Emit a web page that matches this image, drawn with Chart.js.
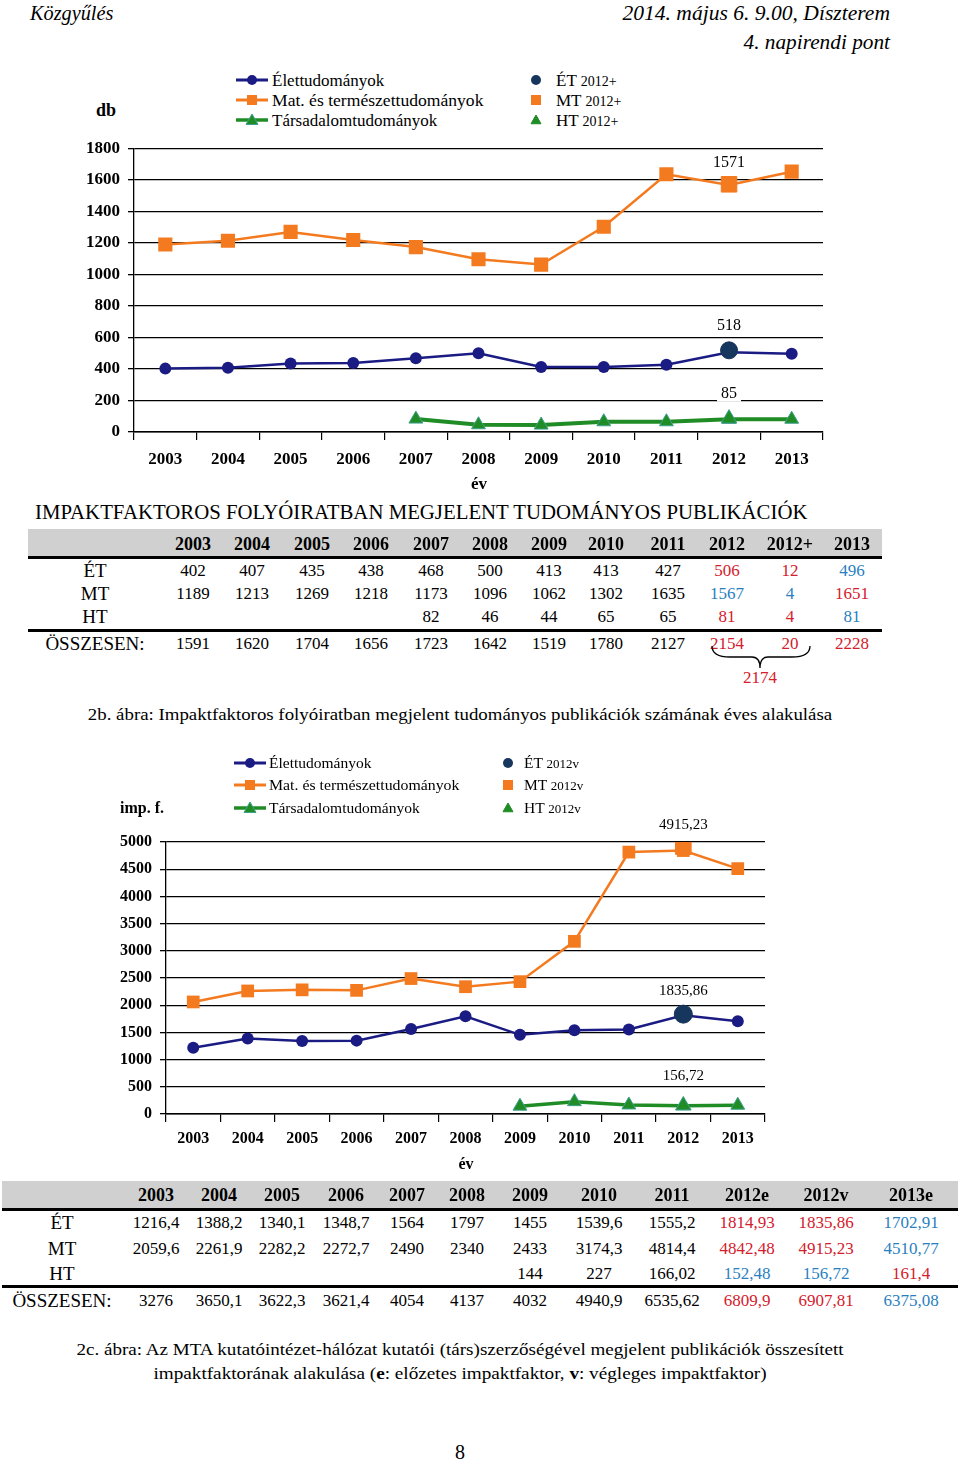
<!DOCTYPE html>
<html><head><meta charset="utf-8">
<script src="https://cdn.jsdelivr.net/npm/chart.js@4"></script>
<style>
body{margin:0;width:960px;height:1464px;position:relative;background:#fff;font-family:'Liberation Serif',serif;color:#000;overflow:hidden}
.t{position:absolute;white-space:nowrap;line-height:1}
canvas{position:absolute}
.band{position:absolute;background:#d0d0d0}
.rule{position:absolute;background:#000}
</style></head>
<body>
<canvas id="c1" width="960" height="350" style="left:0;top:130px"></canvas>
<canvas id="c2" width="960" height="360" style="left:0;top:800px"></canvas>
<script>
// ---------- DATA ----------
const years = ['2003','2004','2005','2006','2007','2008','2009','2010','2011','2012','2013'];
// 2b: number of publications (db)
const pubET = [402,407,435,438,468,500,413,413,427,506,496];
const pubMT = [1189,1213,1269,1218,1173,1096,1062,1302,1635,1567,1651];
const pubHT = [null,null,null,null,82,46,44,65,65,81,81];
const pubTotal = [1591,1620,1704,1656,1723,1642,1519,1780,2127,2154,2228];
const pubPlusET = 12, pubPlusMT = 4, pubPlusHT = 4, pubPlusTotal = 20;
const pubSum2012 = 2174;
const pubHeaders = ['2003','2004','2005','2006','2007','2008','2009','2010','2011','2012','2012+','2013'];
// 2c: impact factor (imp. f.)
const ifET = [1216.4,1388.2,1340.1,1348.7,1564,1797,1455,1539.6,1555.2,1814.93,1702.91];
const ifMT = [2059.6,2261.9,2282.2,2272.7,2490,2340,2433,3174.3,4814.4,4842.48,4510.77];
const ifHT = [null,null,null,null,null,null,144,227,166.02,152.48,161.4];
const ifTotal = [3276,3650.1,3622.3,3621.4,4054,4137,4032,4940.9,6535.62,6809.9,6375.08];
const ifVET = 1835.86, ifVMT = 4915.23, ifVHT = 156.72, ifVTotal = 6907.81;
const ifHeaders = ['2003','2004','2005','2006','2007','2008','2009','2010','2011','2012e','2012v','2013e'];

// ---------- STYLE ----------
const NAVY='#1b1b84', NAVY2='#17365d', ORANGE='#f47a20', GREEN='#1f8c25', GREENB='#3f9f8f';
const RED='#d4202c', BLUE='#2a7fc0';
const SERIF="'Liberation Serif', serif";

function put(text,x,y,opt){
  opt=opt||{};
  const d=document.createElement('div');
  d.className='t';
  if(opt.html) d.innerHTML=text; else d.textContent=text;
  d.style.left=x+'px'; d.style.top=y+'px';
  d.style.fontSize=(opt.size||17)+'px';
  if(opt.bold) d.style.fontWeight='bold';
  if(opt.italic) d.style.fontStyle='italic';
  if(opt.color) d.style.color=opt.color;
  const a=opt.align||'center';
  const tx = a==='center'?'-50%':(a==='right'?'-100%':'0');
  document.body.appendChild(d);
  let sc='';
  if(opt.w){ const w=d.offsetWidth; sc=' scaleX('+(opt.w/w)+')'; d.style.transformOrigin=(a==='center'?'center':a)+' center'; }
  d.style.transform='translate('+tx+',-50%)'+sc;
  return d;
}
function box(cls,x,y,w,h){const d=document.createElement('div');d.className=cls;Object.assign(d.style,{left:x+'px',top:y+'px',width:w+'px',height:h+'px'});document.body.appendChild(d);}
function icon(x,y,color,shape,withLine,size,lineW,border){
  const s=document.createElementNS('http://www.w3.org/2000/svg','svg');
  s.setAttribute('width',34);s.setAttribute('height',20);
  s.style.position='absolute';s.style.left=(x)+'px';s.style.top=(y-10)+'px';
  let h='';
  if(withLine) h+=`<line x1="0" y1="10" x2="32" y2="10" stroke="${color}" stroke-width="${lineW}"/>`;
  const cx=withLine?16:6;
  if(shape==='circle') h+=`<circle cx="${cx}" cy="10" r="${size}" fill="${color}"/>`;
  if(shape==='rect') h+=`<rect x="${cx-size}" y="${10-size}" width="${2*size}" height="${2*size}" fill="${color}"/>`;
  if(shape==='tri') h+=`<polygon points="${cx},${10-size} ${cx+size},${10+size*0.75} ${cx-size},${10+size*0.75}" fill="${color}" stroke="${border||color}" stroke-width="1"/>`;
  s.innerHTML=h; document.body.appendChild(s);
}

// ---------- HEADER ----------
put('Közgyűlés',30,13,{size:21,italic:true,align:'left',w:83});
put('2014. május 6. 9.00, Díszterem',890,13,{size:21,italic:true,align:'right',w:268});
put('4. napirendi pont',890,42,{size:21,italic:true,align:'right',w:146});

// ---------- LEGEND 1 ----------
put('db',106,110,{size:18,bold:true});
icon(236,80,NAVY,'circle',true,5,3);
icon(236,100,ORANGE,'rect',true,5,3);
icon(236,120,GREEN,'tri',true,6,3.5,GREENB);
put('Élettudományok',272,80,{size:17,align:'left'});
put('Mat. és természettudományok',272,100,{size:17,align:'left',w:211});
put('Társadalomtudományok',272,120,{size:17,align:'left'});
icon(530,80,NAVY2,'circle',false,5);
icon(530,100,ORANGE,'rect',false,5);
icon(530,120,GREEN,'tri',false,5);
put('ÉT <span style="font-size:14px">2012+</span>',556,80,{size:17,align:'left',html:true});
put('MT <span style="font-size:14px">2012+</span>',556,100,{size:17,align:'left',html:true});
put('HT <span style="font-size:14px">2012+</span>',556,120,{size:17,align:'left',html:true});
put('év',479,483,{size:17,bold:true});

// ---------- LEGEND 2 ----------
put('imp. f.',142,808,{size:16,bold:true});
icon(234,763,NAVY,'circle',true,5,3);
icon(234,785,ORANGE,'rect',true,5,3);
icon(234,808,GREEN,'tri',true,6,3.5,GREENB);
put('Élettudományok',269,763,{size:15.5,align:'left'});
put('Mat. és természettudományok',269,785,{size:15.5,align:'left',w:190});
put('Társadalomtudományok',269,808,{size:15.5,align:'left'});
icon(502,763,NAVY2,'circle',false,5);
icon(502,785,ORANGE,'rect',false,5);
icon(502,808,GREEN,'tri',false,5);
put('ÉT <span style="font-size:13px">2012v</span>',524,763,{size:15.5,align:'left',html:true});
put('MT <span style="font-size:13px">2012v</span>',524,785,{size:15.5,align:'left',html:true});
put('HT <span style="font-size:13px">2012v</span>',524,808,{size:15.5,align:'left',html:true});
put('év',466,1164,{size:16,bold:true});

// ---------- CHARTS ----------
const pointLabels={
  id:'pointLabels',
  afterDatasetsDraw(chart,args,opts){
    const ctx=chart.ctx;
    (opts.items||[]).forEach(it=>{
      const el=chart.getDatasetMeta(it.dataset).data[it.index];
      const x=el.x, y=el.y+it.dy;
      ctx.save(); ctx.font=it.font; ctx.textAlign='center'; ctx.textBaseline='middle';
      const w=ctx.measureText(it.text).width;
      if(it.bg){ ctx.fillStyle='#fff'; ctx.fillRect(x-w/2-4,y-8,w+8,16); }
      ctx.fillStyle='#000'; ctx.fillText(it.text,x,y); ctx.restore();
    });
  }
};
function only2012(v){return years.map((y,i)=>i===9?v:null);}
function fmt(v){return v==null?'':String(v).replace('.',',');}

function makeChart(id,cfg){
  const tickFont={family:SERIF,size:cfg.tickSize,weight:'bold'};
  return new Chart(document.getElementById(id),{
    type:'line',
    data:{labels:years,datasets:[
      {data:only2012(cfg.vET),pointStyle:'circle',pointRadius:cfg.bigR,backgroundColor:NAVY2,borderColor:NAVY2,showLine:false},
      {data:only2012(cfg.vMT),pointStyle:'rect',pointRadius:cfg.bigSq,backgroundColor:ORANGE,borderColor:ORANGE,showLine:false},
      {data:only2012(cfg.vHT),pointStyle:'triangle',pointRadius:cfg.bigTri,backgroundColor:GREEN,borderColor:GREENB,borderWidth:1,showLine:false},
      {data:cfg.ET,borderColor:NAVY,backgroundColor:NAVY,borderWidth:2.5,pointStyle:'circle',pointRadius:cfg.r,pointBorderWidth:0},
      {data:cfg.MT,borderColor:ORANGE,backgroundColor:ORANGE,borderWidth:2.5,pointStyle:'rect',pointRadius:cfg.sq,pointBorderWidth:0},
      {data:cfg.HT,borderColor:GREEN,backgroundColor:GREEN,borderWidth:cfg.htW,pointStyle:'triangle',pointRadius:cfg.tri,pointBorderColor:GREENB,pointBorderWidth:1}
    ]},
    options:{
      responsive:false,animation:false,
      layout:{padding:cfg.pad},
      plugins:{legend:{display:false},tooltip:{enabled:false},pointLabels:{items:cfg.labels}},
      elements:{line:{tension:0}},
      scales:{
        x:{offset:true,
          grid:{offset:true,drawOnChartArea:false,drawTicks:true,tickLength:8,color:'#000',lineWidth:1.2},
          border:{display:true,color:'#000',width:1.5},
          ticks:{font:tickFont,color:'#000',padding:cfg.xPad,maxRotation:0,autoSkip:false},
          afterFit:s=>{s.height=cfg.xH;}},
        y:{min:0,max:cfg.max,
          ticks:{stepSize:cfg.step,font:tickFont,color:'#000',padding:8,callback:v=>String(v)},
          grid:{color:'#000',lineWidth:1.3,tickLength:6},
          border:{display:true,color:'#000',width:1.3},
          afterFit:s=>{s.width=cfg.yW;}}
      }
    },
    plugins:[pointLabels]
  });
}
makeChart('c1',{ET:pubET,MT:pubMT,HT:pubHT,
  vET:pubET[9]+pubPlusET,vMT:pubMT[9]+pubPlusMT,vHT:pubHT[9]+pubPlusHT,
  r:6,sq:10,tri:8,bigR:8.5,bigSq:11,bigTri:9,htW:4,
  max:1800,step:200,tickSize:17,xPad:9,xH:40,yW:74,
  pad:{left:60,right:137,top:18,bottom:8},
  labels:[
    {dataset:1,index:9,text:String(pubMT[9]+pubPlusMT),dy:-22,font:"16px "+SERIF},
    {dataset:0,index:9,text:String(pubET[9]+pubPlusET),dy:-25,font:"16px "+SERIF},
    {dataset:2,index:9,text:String(pubHT[9]+pubPlusHT),dy:-25,font:"16px "+SERIF,bg:true}
  ]});
makeChart('c2',{ET:ifET,MT:ifMT,HT:ifHT,vET:ifVET,vMT:ifVMT,vHT:ifVHT,
  r:6,sq:9,tri:8,bigR:9,bigSq:11,bigTri:9,htW:3.5,
  max:5000,step:500,tickSize:16,xPad:7,xH:38,yW:76,
  pad:{left:90,right:195,top:42,bottom:8},
  labels:[
    {dataset:1,index:9,text:fmt(ifVMT),dy:-22,font:"15px "+SERIF},
    {dataset:0,index:9,text:fmt(ifVET),dy:-23,font:"15px "+SERIF},
    {dataset:2,index:9,text:fmt(ifVHT),dy:-29,font:"15px "+SERIF}
  ]});

// ---------- TABLE 1 ----------
put('IMPAKTFAKTOROS FOLYÓIRATBAN MEGJELENT TUDOMÁNYOS PUBLIKÁCIÓK',35,512,{size:20,align:'left',w:773});
box('band',28,529,854,27);
box('rule',28,556,854,2.5);
box('rule',28,629,854,2.5);
const t1x=[193,252,312,371,431,490,549,606,668,727,790,852];
pubHeaders.forEach((h,i)=>put(h,t1x[i],544,{size:18,bold:true}));
const t1rows=[
  {label:'ÉT',y:570,vals:pubET.slice(0,10).concat([pubPlusET,pubET[10]]),cols:[RED,RED,BLUE]},
  {label:'MT',y:593,vals:pubMT.slice(0,10).concat([pubPlusMT,pubMT[10]]),cols:[BLUE,BLUE,RED]},
  {label:'HT',y:616,vals:pubHT.slice(0,10).concat([pubPlusHT,pubHT[10]]),cols:[RED,RED,BLUE]},
  {label:'ÖSSZESEN:',y:643,vals:pubTotal.slice(0,10).concat([pubPlusTotal,pubTotal[10]]),cols:[RED,RED,RED]}
];
t1rows.forEach(r=>{
  put(r.label,95,r.y,{size:19});
  r.vals.forEach((v,i)=>{ if(v==null) return;
    put(fmt(v),t1x[i],r.y,{size:17,color:i>=9?r.cols[i-9]:'#000'}); });
});
(function(){
  const s=document.createElementNS('http://www.w3.org/2000/svg','svg');
  s.setAttribute('width',120);s.setAttribute('height',40);
  Object.assign(s.style,{position:'absolute',left:'700px',top:'640px'});
  s.innerHTML='<path d="M12,6 Q12,17 30,17 L52,17 Q60,17 60,28 Q60,17 68,17 L92,17 Q110,17 110,6" fill="none" stroke="#000" stroke-width="1.3"/>';
  document.body.appendChild(s);
})();
put(String(pubSum2012),760,677,{size:17,color:RED});
put('2b. ábra: Impaktfaktoros folyóiratban megjelent tudományos publikációk számának éves alakulása',460,714,{size:17,w:744});

// ---------- TABLE 2 ----------
box('band',2,1181,956,27);
box('rule',2,1208,956,2.5);
box('rule',2,1285,956,2.5);
const t2x=[156,219,282,346,407,467,530,599,672,747,826,911];
ifHeaders.forEach((h,i)=>put(h,t2x[i],1195,{size:18,bold:true}));
const t2rows=[
  {label:'ÉT',y:1222,vals:ifET.slice(0,10).concat([ifVET,ifET[10]]),cols:[RED,RED,BLUE]},
  {label:'MT',y:1248,vals:ifMT.slice(0,10).concat([ifVMT,ifMT[10]]),cols:[RED,RED,BLUE]},
  {label:'HT',y:1273,vals:ifHT.slice(0,10).concat([ifVHT,ifHT[10]]),cols:[BLUE,BLUE,RED]},
  {label:'ÖSSZESEN:',y:1300,vals:ifTotal.slice(0,10).concat([ifVTotal,ifTotal[10]]),cols:[RED,RED,BLUE]}
];
t2rows.forEach(r=>{
  put(r.label,62,r.y,{size:19});
  r.vals.forEach((v,i)=>{ if(v==null) return;
    put(fmt(v),t2x[i],r.y,{size:17,color:i>=9?r.cols[i-9]:'#000'}); });
});
put('2c. ábra: Az MTA kutatóintézet-hálózat kutatói (társ)szerzőségével megjelent publikációk összesített',460,1349,{size:17,w:767});
put('impaktfaktorának alakulása (<b>e</b>: előzetes impaktfaktor, <b>v</b>: végleges impaktfaktor)',460,1373,{size:17,w:613,html:true});
put('8',460,1452,{size:20});
</script>
</body></html>
